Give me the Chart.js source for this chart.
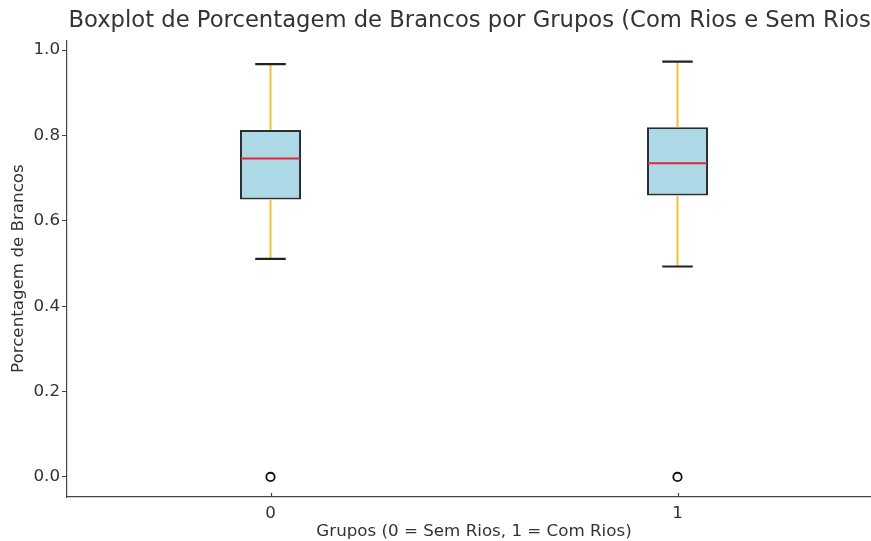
<!DOCTYPE html>
<html>
<head>
<meta charset="utf-8">
<title>Boxplot de Porcentagem de Brancos</title>
<script src="https://cdn.jsdelivr.net/npm/chart.js@4.4.1/dist/chart.umd.min.js"></script>
<style>
  html, body { margin: 0; padding: 0; background: #ffffff; overflow: hidden; }
  #wrap { width: 887px; height: 541px; }
</style>
</head>
<body>
<div id="wrap"><canvas id="c" width="887" height="541"></canvas></div>
<script>
// Group positions on the x axis and their tick labels
const groups = [0, 1];
const groupLabels = ['0', '1'];

// Five-number summaries per group (Porcentagem de Brancos)
const whiskerLow  = [0.511, 0.493];
const q1          = [0.650, 0.659];
const median      = [0.746, 0.735];
const q3          = [0.813, 0.819];
const whiskerHigh = [0.967, 0.973];

// Points beyond the whiskers
const outliers = [[0.0], [0.0]];

// Y axis tick values
const yTicks = [0.0, 0.2, 0.4, 0.6, 0.8, 1.0];

const BOX_WIDTH = 0.15;      // in x-axis units
const CAP_WIDTH = BOX_WIDTH / 2;
const TEXT = '#333333';
const SPINE = '#444444';

// Whiskers, caps, medians and inward x ticks, positioned through the chart scales
const boxExtras = {
  id: 'boxExtras',
  afterDatasetsDraw(chart) {
    const { ctx, scales: { x, y } } = chart;
    ctx.save();
    groups.forEach((g, i) => {
      const cx = x.getPixelForValue(g);
      const capL = x.getPixelForValue(g - CAP_WIDTH / 2);
      const capR = x.getPixelForValue(g + CAP_WIDTH / 2);
      const boxL = x.getPixelForValue(g - BOX_WIDTH / 2);
      const boxR = x.getPixelForValue(g + BOX_WIDTH / 2);

      // whiskers
      ctx.strokeStyle = '#F5C02A';
      ctx.lineWidth = 2;
      ctx.beginPath();
      ctx.moveTo(cx, y.getPixelForValue(q3[i]));
      ctx.lineTo(cx, y.getPixelForValue(whiskerHigh[i]));
      ctx.moveTo(cx, y.getPixelForValue(q1[i]));
      ctx.lineTo(cx, y.getPixelForValue(whiskerLow[i]));
      ctx.stroke();

      // caps
      ctx.strokeStyle = '#222222';
      ctx.lineWidth = 2.2;
      ctx.beginPath();
      ctx.moveTo(capL, y.getPixelForValue(whiskerHigh[i]));
      ctx.lineTo(capR, y.getPixelForValue(whiskerHigh[i]));
      ctx.moveTo(capL, y.getPixelForValue(whiskerLow[i]));
      ctx.lineTo(capR, y.getPixelForValue(whiskerLow[i]));
      ctx.stroke();

      // median
      ctx.strokeStyle = '#E0283A';
      ctx.lineWidth = 2;
      ctx.beginPath();
      ctx.moveTo(boxL + 1, y.getPixelForValue(median[i]));
      ctx.lineTo(boxR - 1, y.getPixelForValue(median[i]));
      ctx.stroke();
    });

    // x ticks pointing into the plot
    ctx.strokeStyle = SPINE;
    ctx.lineWidth = 1.2;
    const yb = chart.chartArea.bottom;
    x.ticks.forEach(t => {
      const px = Math.round(x.getPixelForValue(t.value)) + 0.5;
      ctx.beginPath();
      ctx.moveTo(px, yb);
      ctx.lineTo(px, yb - 4);
      ctx.stroke();
    });
    ctx.restore();
  }
};

const boxData = groups.map((g, i) => ({ x: g, y: [q1[i], q3[i]] }));
const outlierData = [];
groups.forEach((g, i) => outliers[i].forEach(v => outlierData.push({ x: g, y: v })));

new Chart(document.getElementById('c'), {
  type: 'bar',
  data: {
    datasets: [
      {
        type: 'scatter',
        data: outlierData,
        pointRadius: 4.2,
        pointBackgroundColor: '#ffffff',
        pointBorderColor: '#111111',
        pointBorderWidth: 1.8,
        order: 1
      },
      {
        type: 'bar',
        data: boxData,
        backgroundColor: '#ADD8E6',
        borderColor: '#2A2E34',
        borderWidth: 2,
        borderSkipped: false,
        categoryPercentage: 1,
        barPercentage: BOX_WIDTH,
        order: 2
      }
    ]
  },
  options: {
    responsive: false,
    animation: false,
    devicePixelRatio: 1,
    layout: { padding: 0 },
    plugins: {
      legend: { display: false },
      tooltip: { enabled: false },
      title: {
        display: true,
        fullSize: false,
        text: 'Boxplot de Porcentagem de Brancos por Grupos (Com Rios e Sem Rios)',
        color: TEXT,
        font: { family: 'DejaVu Sans', size: 22.7, weight: 'normal', lineHeight: 1.2 },
        padding: { top: 7, bottom: 6 }
      }
    },
    scales: {
      x: {
        type: 'linear',
        min: -0.5,
        max: 1.5,
        offset: false,
        afterBuildTicks(scale) {
          scale.ticks = groups.map(v => ({ value: v }));
        },
        afterFit(scale) { scale.height = 44; },
        ticks: {
          color: TEXT,
          font: { family: 'DejaVu Sans', size: 16.7 },
          padding: 3,
          maxRotation: 0,
          callback: (v) => groupLabels[groups.indexOf(v)] ?? ''
        },
        grid: { display: false, drawTicks: true, tickLength: 4 },
        border: { display: true, color: SPINE, width: 1.2 },
        title: {
          display: true,
          text: 'Grupos (0 = Sem Rios, 1 = Com Rios)',
          color: TEXT,
          font: { family: 'DejaVu Sans', size: 16.7, lineHeight: 1.2 },
          padding: { top: 0, bottom: -1 }
        }
      },
      y: {
        min: -0.047,
        max: 1.023,
        afterBuildTicks(scale) {
          scale.ticks = yTicks.map(v => ({ value: v }));
        },
        afterFit(scale) { scale.width = 67; },
        ticks: {
          color: TEXT,
          font: { family: 'DejaVu Sans', size: 16.7 },
          padding: 2,
          callback: (v) => Number(v).toFixed(1)
        },
        grid: { display: true, drawOnChartArea: false, drawTicks: true, tickLength: 5, color: SPINE },
        border: { display: true, color: SPINE, width: 1.2 },
        title: {
          display: true,
          text: 'Porcentagem de Brancos',
          color: TEXT,
          font: { family: 'DejaVu Sans', size: 16.7, lineHeight: 1.2 },
          padding: { top: 9, bottom: 0 }
        }
      }
    }
  },
  plugins: [boxExtras]
});
</script>
</body>
</html>
